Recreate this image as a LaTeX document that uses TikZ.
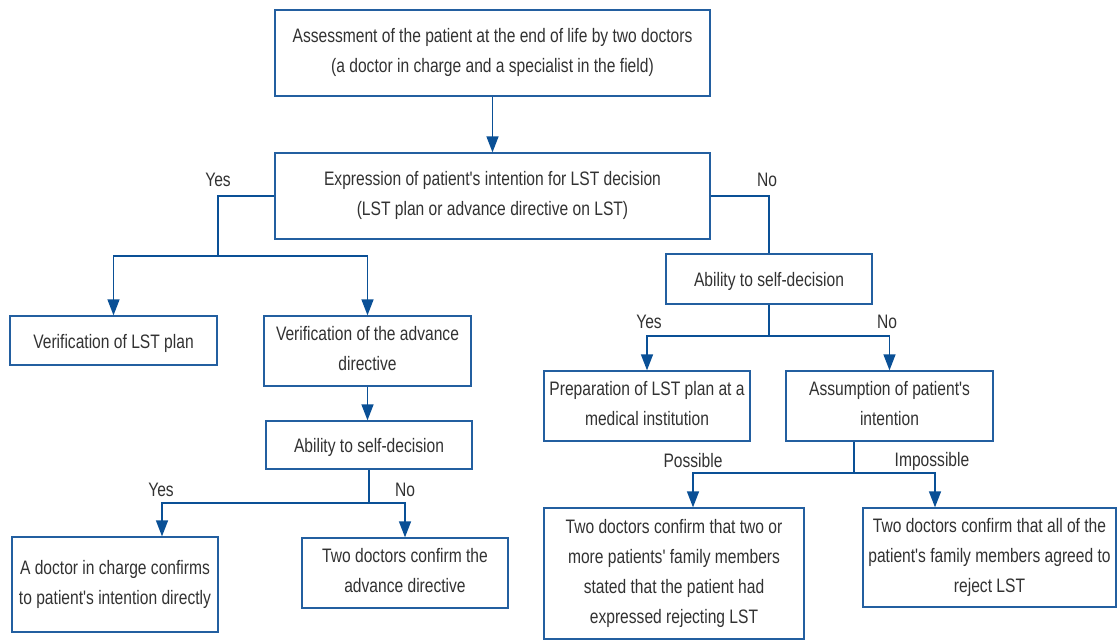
\documentclass[tikz,border=0pt]{standalone}
\usepackage{fontspec}
\setmainfont[FakeStretch=0.80, Ligatures=TeXOff]{Liberation Sans}
\usetikzlibrary{arrows.meta}
\definecolor{boxc}{RGB}{35,95,160}
\definecolor{arrc}{RGB}{10,80,150}
\definecolor{txt}{RGB}{50,50,50}
\tikzset{
  box/.style={draw=boxc, line width=1.3pt, text=txt, align=center, inner sep=0pt,
    font={\fontsize{19.5pt}{30pt}\selectfont},
    execute at begin node={\rule{0pt}{20pt}},
    execute at end node={\rule[-4.5pt]{0pt}{4.5pt}}},
  multi/.style={box, execute at begin node={\rule{0pt}{28pt}}},
  conn/.style={draw=arrc, line width=1.4pt},
  arr/.style={conn, -{Triangle[length=16pt,width=12pt]}},
  lbl/.style={text=txt, inner sep=0pt, font={\fontsize{19.5pt}{30pt}\selectfont}}
}
\begin{document}
\begin{tikzpicture}[x=1pt,y=-1pt]
\useasboundingbox (0,0) rectangle (1117,640);
\fill[white] (0,0) rectangle (1117,640);

\node[multi, minimum width=435pt, minimum height=86pt] (top) at (492.5,53)
  {Assessment of the patient at the end of life by two doctors\\(a doctor in charge and a specialist in the field)};
\node[multi, minimum width=435pt, minimum height=86pt] (expr) at (492.5,196)
  {Expression of patient's intention for LST decision\\(LST plan or advance directive on LST)};
\node[box, minimum width=207pt, minimum height=49pt] (vlst) at (113.5,340.5)
  {Verification of LST plan};
\node[multi, minimum width=207pt, minimum height=70pt] (vad) at (367.5,351)
  {Verification of the advance\\directive};
\node[box, minimum width=206pt, minimum height=48pt] (abl) at (369,445)
  {Ability to self-decision};
\node[multi, minimum width=206pt, minimum height=95pt] (doc) at (115,584.5)
  {A doctor in charge confirms\\to patient's intention directly};
\node[multi, minimum width=206pt, minimum height=70pt] (two) at (405,573)
  {Two doctors confirm the\\advance directive};
\node[box, minimum width=206pt, minimum height=50pt] (abr) at (769,279)
  {Ability to self-decision};
\node[multi, minimum width=206pt, minimum height=70pt] (prep) at (647,406)
  {Preparation of LST plan at a\\medical institution};
\node[multi, minimum width=207pt, minimum height=70pt] (assm) at (889.5,406)
  {Assumption of patient's\\intention};
\node[multi, minimum width=260pt, minimum height=131pt] (fam2) at (674,573.5)
  {Two doctors confirm that two or\\more patients' family members\\stated that the patient had\\expressed rejecting LST};
\node[multi, minimum width=253pt, minimum height=99pt] (famall) at (989.5,557.5)
  {Two doctors confirm that all of the\\patient's family members agreed to\\reject LST};

% top -> expr
\draw[arr] (top.south) -- (expr.north);

% Yes branch
\coordinate (yj) at (218,256);
\draw[conn] (expr.west) -| (yj);
\draw[arr] (yj) -| (vlst.north);
\draw[arr] (yj) -| (vad.north);
\draw[arr] (vad.south) -- (vad.south |- abl.north);

% left ability
\coordinate (lj) at (369,503);
\draw[conn] (abl.south) -- (lj);
\draw[arr] (lj) -| ([xshift=47pt]doc.north);
\draw[arr] (lj) -| (two.north);

% No branch
\draw[conn] (expr.east) -| (abr.north);
\coordinate (rj) at (769,336);
\draw[conn] (abr.south) -- (rj);
\draw[arr] (rj) -| (prep.north);
\draw[arr] (rj) -| (assm.north);

% assumption
\coordinate (aj) at (854,473);
\draw[conn] ([xshift=-35.5pt]assm.south) -- (aj);
\draw[arr] (aj) -| ([xshift=19pt]fam2.north);
\draw[arr] (aj) -| ([xshift=-54.5pt]famall.north);

% labels
\node[lbl] (l1) at (218,180) {Yes};
\node[lbl] (l2) at (767,180) {No};
\node[lbl] (l3) at (161,490) {Yes};
\node[lbl] (l4) at (405,490) {No};
\node[lbl] (l5) at (649,322) {Yes};
\node[lbl] (l6) at (887,322) {No};
\node[lbl] (l7) at (693,461) {Possible};
\node[lbl] (l8) at (932,461) {Impossible};
\end{tikzpicture}
\end{document}
